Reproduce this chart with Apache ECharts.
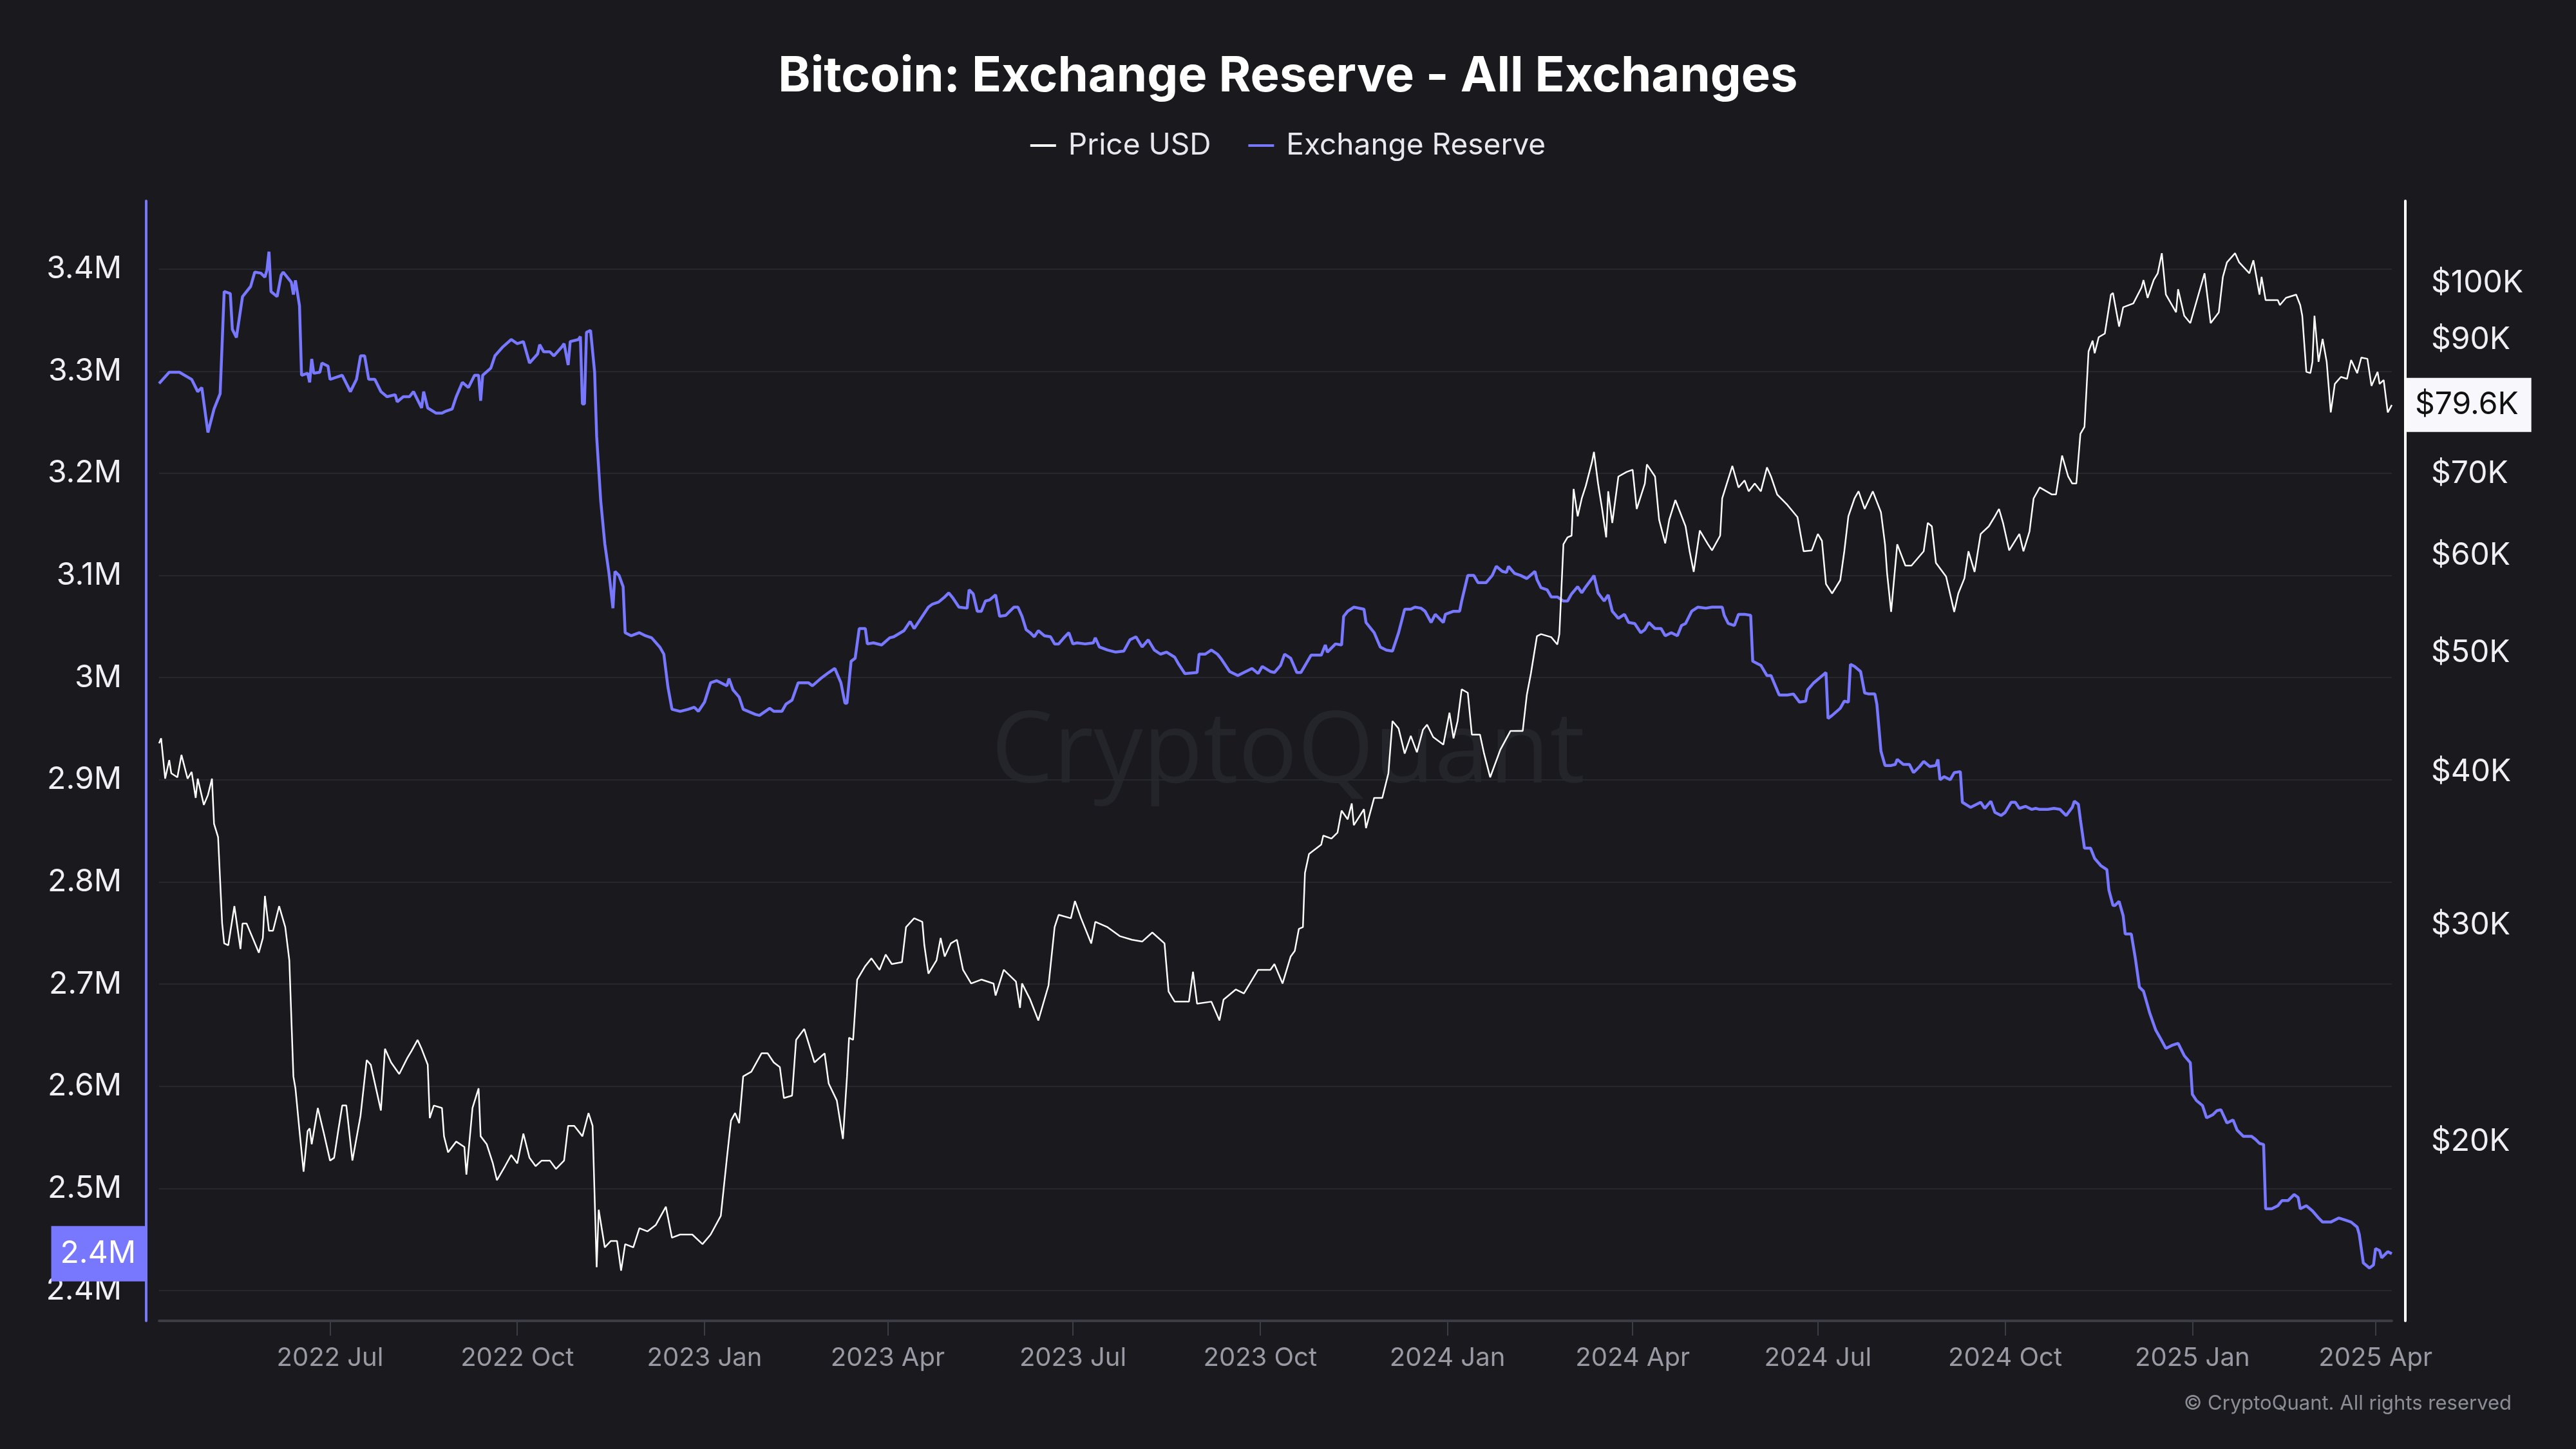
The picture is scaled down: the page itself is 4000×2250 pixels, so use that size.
<!DOCTYPE html>
<html>
<head>
<meta charset="utf-8">
<title>Bitcoin: Exchange Reserve - All Exchanges</title>
<script src="https://cdn.jsdelivr.net/npm/echarts@6/dist/echarts.min.js"></script>
<style>
  html, body { margin: 0; padding: 0; background: #19191e; }
  #chart { width: 4000px; height: 2250px; }
</style>
</head>
<body>
<div id="chart"></div>
<script>
// exchange reserve, million BTC
var reserveData = [
  ['2022-04-08', 3.288], ['2022-04-13', 3.299], ['2022-04-18', 3.299], ['2022-04-24', 3.292], ['2022-04-27', 3.280], ['2022-04-29', 3.284],
  ['2022-05-02', 3.240], ['2022-05-05', 3.263], ['2022-05-08', 3.278], ['2022-05-10', 3.378], ['2022-05-13', 3.376], ['2022-05-14', 3.341],
  ['2022-05-16', 3.333], ['2022-05-19', 3.373], ['2022-05-23', 3.383], ['2022-05-25', 3.397], ['2022-05-28', 3.396], ['2022-05-30', 3.392],
  ['2022-05-31', 3.399], ['2022-06-01', 3.417], ['2022-06-02', 3.378], ['2022-06-05', 3.373], ['2022-06-07', 3.394], ['2022-06-08', 3.397],
  ['2022-06-12', 3.387], ['2022-06-13', 3.375], ['2022-06-14', 3.389], ['2022-06-16', 3.364], ['2022-06-17', 3.296], ['2022-06-20', 3.298],
  ['2022-06-21', 3.289], ['2022-06-22', 3.312], ['2022-06-23', 3.298], ['2022-06-26', 3.299], ['2022-06-27', 3.308], ['2022-06-30', 3.305],
  ['2022-07-01', 3.292], ['2022-07-04', 3.294], ['2022-07-07', 3.296], ['2022-07-11', 3.280], ['2022-07-14', 3.292], ['2022-07-16', 3.315],
  ['2022-07-18', 3.315], ['2022-07-20', 3.292], ['2022-07-23', 3.292], ['2022-07-26', 3.280], ['2022-07-29', 3.275], ['2022-08-02', 3.277],
  ['2022-08-03', 3.270], ['2022-08-06', 3.275], ['2022-08-09', 3.275], ['2022-08-11', 3.280], ['2022-08-15', 3.264], ['2022-08-16', 3.280],
  ['2022-08-18', 3.264], ['2022-08-22', 3.259], ['2022-08-25', 3.259], ['2022-08-27', 3.261], ['2022-08-30', 3.263], ['2022-09-01', 3.275],
  ['2022-09-04', 3.289], ['2022-09-07', 3.284], ['2022-09-10', 3.296], ['2022-09-12', 3.296], ['2022-09-13', 3.271], ['2022-09-14', 3.296],
  ['2022-09-18', 3.303], ['2022-09-20', 3.315], ['2022-09-24', 3.324], ['2022-09-28', 3.331], ['2022-10-01', 3.327], ['2022-10-04', 3.329],
  ['2022-10-07', 3.308], ['2022-10-11', 3.317], ['2022-10-12', 3.326], ['2022-10-14', 3.319], ['2022-10-17', 3.319], ['2022-10-19', 3.315],
  ['2022-10-23', 3.324], ['2022-10-24', 3.327], ['2022-10-26', 3.306], ['2022-10-27', 3.329], ['2022-10-31', 3.331], ['2022-11-01', 3.334],
  ['2022-11-02', 3.268], ['2022-11-03', 3.268], ['2022-11-04', 3.338], ['2022-11-06', 3.340], ['2022-11-08', 3.299], ['2022-11-09', 3.236],
  ['2022-11-11', 3.173], ['2022-11-13', 3.131], ['2022-11-15', 3.103], ['2022-11-17', 3.068], ['2022-11-18', 3.104], ['2022-11-20', 3.100],
  ['2022-11-22', 3.089], ['2022-11-23', 3.044], ['2022-11-26', 3.041], ['2022-11-30', 3.044], ['2022-12-03', 3.041], ['2022-12-06', 3.039],
  ['2022-12-10', 3.030], ['2022-12-12', 3.023], ['2022-12-14', 2.991], ['2022-12-16', 2.969], ['2022-12-20', 2.967], ['2022-12-24', 2.969],
  ['2022-12-27', 2.971], ['2022-12-29', 2.967], ['2023-01-01', 2.976], ['2023-01-04', 2.995], ['2023-01-07', 2.997], ['2023-01-12', 2.992],
  ['2023-01-13', 2.999], ['2023-01-15', 2.988], ['2023-01-18', 2.981], ['2023-01-20', 2.969], ['2023-01-26', 2.964], ['2023-01-28', 2.963],
  ['2023-02-02', 2.970], ['2023-02-04', 2.967], ['2023-02-08', 2.967], ['2023-02-10', 2.974], ['2023-02-13', 2.978], ['2023-02-16', 2.995],
  ['2023-02-21', 2.995], ['2023-02-23', 2.992], ['2023-02-27', 2.999], ['2023-03-03', 3.005], ['2023-03-06', 3.009], ['2023-03-09', 2.995],
  ['2023-03-11', 2.975], ['2023-03-12', 2.975], ['2023-03-14', 3.016], ['2023-03-16', 3.019], ['2023-03-18', 3.048], ['2023-03-21', 3.048],
  ['2023-03-22', 3.033], ['2023-03-25', 3.034], ['2023-03-29', 3.032], ['2023-04-02', 3.039], ['2023-04-04', 3.040], ['2023-04-09', 3.046],
  ['2023-04-12', 3.055], ['2023-04-14', 3.048], ['2023-04-18', 3.060], ['2023-04-21', 3.069], ['2023-04-23', 3.072], ['2023-04-26', 3.074],
  ['2023-04-29', 3.079], ['2023-05-01', 3.083], ['2023-05-03', 3.078], ['2023-05-06', 3.069], ['2023-05-10', 3.068], ['2023-05-11', 3.086],
  ['2023-05-13', 3.082], ['2023-05-15', 3.065], ['2023-05-17', 3.065], ['2023-05-19', 3.075], ['2023-05-21', 3.076], ['2023-05-24', 3.081],
  ['2023-05-26', 3.060], ['2023-05-29', 3.061], ['2023-05-31', 3.065], ['2023-06-02', 3.069], ['2023-06-04', 3.069], ['2023-06-06', 3.060],
  ['2023-06-08', 3.047], ['2023-06-10', 3.044], ['2023-06-12', 3.040], ['2023-06-14', 3.046], ['2023-06-17', 3.041], ['2023-06-20', 3.040],
  ['2023-06-22', 3.033], ['2023-06-24', 3.033], ['2023-06-27', 3.040], ['2023-06-29', 3.044], ['2023-07-01', 3.033], ['2023-07-03', 3.034],
  ['2023-07-07', 3.033], ['2023-07-11', 3.034], ['2023-07-12', 3.039], ['2023-07-14', 3.030], ['2023-07-18', 3.027], ['2023-07-22', 3.025],
  ['2023-07-26', 3.026], ['2023-07-29', 3.037], ['2023-08-01', 3.040], ['2023-08-04', 3.030], ['2023-08-07', 3.037], ['2023-08-10', 3.027],
  ['2023-08-13', 3.023], ['2023-08-16', 3.025], ['2023-08-20', 3.020], ['2023-08-22', 3.013], ['2023-08-25', 3.004], ['2023-08-31', 3.005],
  ['2023-09-01', 3.023], ['2023-09-04', 3.023], ['2023-09-07', 3.027], ['2023-09-10', 3.023], ['2023-09-12', 3.018], ['2023-09-16', 3.006],
  ['2023-09-20', 3.002], ['2023-09-23', 3.005], ['2023-09-27', 3.009], ['2023-09-30', 3.004], ['2023-10-02', 3.011], ['2023-10-06', 3.006],
  ['2023-10-08', 3.005], ['2023-10-11', 3.012], ['2023-10-13', 3.023], ['2023-10-16', 3.019], ['2023-10-19', 3.005], ['2023-10-21', 3.005],
  ['2023-10-26', 3.022], ['2023-10-31', 3.022], ['2023-11-02', 3.032], ['2023-11-03', 3.025], ['2023-11-07', 3.033], ['2023-11-10', 3.032],
  ['2023-11-11', 3.060], ['2023-11-13', 3.065], ['2023-11-16', 3.069], ['2023-11-21', 3.067], ['2023-11-22', 3.054], ['2023-11-26', 3.044],
  ['2023-11-29', 3.030], ['2023-12-02', 3.027], ['2023-12-05', 3.026], ['2023-12-08', 3.044], ['2023-12-11', 3.067], ['2023-12-14', 3.067],
  ['2023-12-16', 3.069], ['2023-12-19', 3.068], ['2023-12-21', 3.065], ['2023-12-24', 3.054], ['2023-12-26', 3.062], ['2023-12-30', 3.054],
  ['2023-12-31', 3.062], ['2024-01-04', 3.065], ['2024-01-07', 3.065], ['2024-01-08', 3.075], ['2024-01-11', 3.100], ['2024-01-14', 3.100],
  ['2024-01-16', 3.093], ['2024-01-20', 3.093], ['2024-01-23', 3.100], ['2024-01-25', 3.109], ['2024-01-28', 3.104], ['2024-01-30', 3.103],
  ['2024-01-31', 3.109], ['2024-02-03', 3.102], ['2024-02-06', 3.100], ['2024-02-09', 3.097], ['2024-02-13', 3.104], ['2024-02-14', 3.096],
  ['2024-02-16', 3.088], ['2024-02-19', 3.086], ['2024-02-21', 3.079], ['2024-02-24', 3.079], ['2024-02-27', 3.075], ['2024-02-29', 3.075],
  ['2024-03-02', 3.082], ['2024-03-05', 3.089], ['2024-03-07', 3.083], ['2024-03-09', 3.089], ['2024-03-12', 3.097], ['2024-03-13', 3.100],
  ['2024-03-15', 3.083], ['2024-03-18', 3.075], ['2024-03-20', 3.081], ['2024-03-22', 3.065], ['2024-03-25', 3.058], ['2024-03-28', 3.062],
  ['2024-03-30', 3.054], ['2024-04-02', 3.053], ['2024-04-05', 3.044], ['2024-04-07', 3.047], ['2024-04-09', 3.054], ['2024-04-12', 3.048],
  ['2024-04-15', 3.048], ['2024-04-17', 3.041], ['2024-04-20', 3.044], ['2024-04-23', 3.041], ['2024-04-25', 3.051], ['2024-04-27', 3.053],
  ['2024-04-30', 3.065], ['2024-05-03', 3.069], ['2024-05-07', 3.068], ['2024-05-10', 3.069], ['2024-05-15', 3.069], ['2024-05-16', 3.061],
  ['2024-05-18', 3.053], ['2024-05-21', 3.051], ['2024-05-23', 3.062], ['2024-05-26', 3.062], ['2024-05-29', 3.061], ['2024-05-30', 3.016],
  ['2024-06-03', 3.012], ['2024-06-06', 3.002], ['2024-06-08', 3.002], ['2024-06-12', 2.983], ['2024-06-16', 2.983], ['2024-06-19', 2.984],
  ['2024-06-22', 2.976], ['2024-06-25', 2.977], ['2024-06-26', 2.988], ['2024-06-29', 2.995], ['2024-07-05', 3.005], ['2024-07-06', 2.960],
  ['2024-07-08', 2.963], ['2024-07-12', 2.970], ['2024-07-14', 2.977], ['2024-07-16', 2.976], ['2024-07-17', 3.013], ['2024-07-19', 3.011],
  ['2024-07-22', 3.006], ['2024-07-24', 2.985], ['2024-07-26', 2.984], ['2024-07-29', 2.984], ['2024-07-30', 2.974], ['2024-08-01', 2.928],
  ['2024-08-03', 2.914], ['2024-08-06', 2.914], ['2024-08-08', 2.915], ['2024-08-09', 2.920], ['2024-08-12', 2.915], ['2024-08-15', 2.915],
  ['2024-08-17', 2.907], ['2024-08-20', 2.913], ['2024-08-22', 2.918], ['2024-08-25', 2.913], ['2024-08-28', 2.914], ['2024-08-29', 2.920],
  ['2024-08-30', 2.900], ['2024-09-01', 2.903], ['2024-09-04', 2.900], ['2024-09-06', 2.907], ['2024-09-09', 2.908], ['2024-09-10', 2.878],
  ['2024-09-14', 2.873], ['2024-09-16', 2.875], ['2024-09-19', 2.878], ['2024-09-21', 2.872], ['2024-09-24', 2.879], ['2024-09-26', 2.868],
  ['2024-09-29', 2.865], ['2024-10-01', 2.868], ['2024-10-04', 2.878], ['2024-10-06', 2.878], ['2024-10-08', 2.872], ['2024-10-11', 2.874],
  ['2024-10-14', 2.871], ['2024-10-16', 2.872], ['2024-10-18', 2.871], ['2024-10-22', 2.871], ['2024-10-25', 2.872], ['2024-10-28', 2.871],
  ['2024-10-31', 2.865], ['2024-11-03', 2.873], ['2024-11-04', 2.879], ['2024-11-06', 2.876], ['2024-11-07', 2.861], ['2024-11-09', 2.833],
  ['2024-11-12', 2.833], ['2024-11-14', 2.823], ['2024-11-17', 2.816], ['2024-11-20', 2.812], ['2024-11-21', 2.792], ['2024-11-23', 2.777],
  ['2024-11-24', 2.777], ['2024-11-26', 2.781], ['2024-11-28', 2.767], ['2024-11-29', 2.749], ['2024-12-02', 2.749], ['2024-12-04', 2.725],
  ['2024-12-06', 2.697], ['2024-12-08', 2.693], ['2024-12-11', 2.672], ['2024-12-14', 2.655], ['2024-12-16', 2.648], ['2024-12-19', 2.637],
  ['2024-12-22', 2.640], ['2024-12-25', 2.642], ['2024-12-28', 2.630], ['2024-12-31', 2.623], ['2025-01-01', 2.592], ['2025-01-03', 2.586],
  ['2025-01-06', 2.581], ['2025-01-08', 2.569], ['2025-01-11', 2.572], ['2025-01-13', 2.576], ['2025-01-15', 2.577], ['2025-01-18', 2.564],
  ['2025-01-21', 2.567], ['2025-01-23', 2.557], ['2025-01-26', 2.551], ['2025-01-30', 2.551], ['2025-02-01', 2.548], ['2025-02-03', 2.544],
  ['2025-02-05', 2.543], ['2025-02-06', 2.480], ['2025-02-09', 2.480], ['2025-02-12', 2.483], ['2025-02-14', 2.488], ['2025-02-17', 2.488],
  ['2025-02-20', 2.494], ['2025-02-22', 2.491], ['2025-02-23', 2.480], ['2025-02-26', 2.483], ['2025-03-01', 2.478], ['2025-03-04', 2.471],
  ['2025-03-06', 2.467], ['2025-03-10', 2.467], ['2025-03-14', 2.471], ['2025-03-17', 2.469], ['2025-03-20', 2.467], ['2025-03-23', 2.462],
  ['2025-03-24', 2.455], ['2025-03-26', 2.427], ['2025-03-29', 2.422], ['2025-03-31', 2.425], ['2025-04-01', 2.441], ['2025-04-03', 2.439],
  ['2025-04-04', 2.432], ['2025-04-07', 2.438], ['2025-04-09', 2.436]
];

// BTC price, thousand USD
var priceData = [
  ['2022-04-08', 42.2], ['2022-04-09', 42.6], ['2022-04-11', 39.5], ['2022-04-13', 40.9], ['2022-04-14', 39.9], ['2022-04-17', 39.6],
  ['2022-04-19', 41.3], ['2022-04-22', 39.5], ['2022-04-24', 40.0], ['2022-04-26', 38.1], ['2022-04-27', 39.5], ['2022-04-30', 37.6],
  ['2022-05-02', 38.3], ['2022-05-04', 39.5], ['2022-05-05', 36.3], ['2022-05-07', 35.4], ['2022-05-09', 30.1], ['2022-05-10', 29.0],
  ['2022-05-12', 28.9], ['2022-05-15', 31.1], ['2022-05-18', 28.7], ['2022-05-19', 30.1], ['2022-05-21', 30.1], ['2022-05-24', 29.3],
  ['2022-05-27', 28.5], ['2022-05-29', 29.3], ['2022-05-30', 31.7], ['2022-06-01', 29.7], ['2022-06-03', 29.7], ['2022-06-06', 31.1],
  ['2022-06-09', 29.9], ['2022-06-11', 28.1], ['2022-06-13', 22.6], ['2022-06-14', 22.1], ['2022-06-16', 20.4], ['2022-06-18', 18.9],
  ['2022-06-20', 20.4], ['2022-06-21', 20.5], ['2022-06-22', 19.9], ['2022-06-25', 21.3], ['2022-06-28', 20.3], ['2022-07-01', 19.3],
  ['2022-07-03', 19.4], ['2022-07-05', 20.4], ['2022-07-07', 21.4], ['2022-07-09', 21.4], ['2022-07-12', 19.3], ['2022-07-16', 21.0],
  ['2022-07-19', 23.3], ['2022-07-21', 23.1], ['2022-07-26', 21.2], ['2022-07-28', 23.8], ['2022-07-31', 23.2], ['2022-08-04', 22.7],
  ['2022-08-08', 23.4], ['2022-08-10', 23.7], ['2022-08-13', 24.2], ['2022-08-15', 23.8], ['2022-08-18', 23.1], ['2022-08-19', 20.9],
  ['2022-08-21', 21.4], ['2022-08-25', 21.3], ['2022-08-26', 20.2], ['2022-08-28', 19.6], ['2022-09-01', 20.0], ['2022-09-05', 19.8],
  ['2022-09-06', 18.8], ['2022-09-09', 21.3], ['2022-09-12', 22.1], ['2022-09-13', 20.2], ['2022-09-16', 19.9], ['2022-09-19', 19.2],
  ['2022-09-21', 18.6], ['2022-09-25', 19.1], ['2022-09-28', 19.5], ['2022-10-01', 19.2], ['2022-10-04', 20.3], ['2022-10-07', 19.4],
  ['2022-10-10', 19.1], ['2022-10-13', 19.3], ['2022-10-17', 19.3], ['2022-10-20', 19.0], ['2022-10-24', 19.3], ['2022-10-26', 20.6],
  ['2022-10-29', 20.6], ['2022-11-02', 20.2], ['2022-11-05', 21.1], ['2022-11-07', 20.6], ['2022-11-09', 15.8], ['2022-11-10', 17.6],
  ['2022-11-13', 16.4], ['2022-11-16', 16.6], ['2022-11-19', 16.6], ['2022-11-21', 15.7], ['2022-11-23', 16.5], ['2022-11-27', 16.4],
  ['2022-11-30', 17.0], ['2022-12-04', 16.9], ['2022-12-08', 17.1], ['2022-12-13', 17.7], ['2022-12-16', 16.7], ['2022-12-20', 16.8],
  ['2022-12-26', 16.8], ['2022-12-31', 16.5], ['2023-01-04', 16.8], ['2023-01-09', 17.4], ['2023-01-12', 19.4], ['2023-01-14', 20.8],
  ['2023-01-16', 21.1], ['2023-01-18', 20.7], ['2023-01-20', 22.6], ['2023-01-24', 22.8], ['2023-01-29', 23.6], ['2023-02-01', 23.6],
  ['2023-02-04', 23.2], ['2023-02-07', 23.0], ['2023-02-09', 21.7], ['2023-02-13', 21.8], ['2023-02-15', 24.2], ['2023-02-19', 24.7],
  ['2023-02-24', 23.2], ['2023-03-01', 23.6], ['2023-03-03', 22.3], ['2023-03-07', 21.6], ['2023-03-10', 20.1], ['2023-03-12', 22.6],
  ['2023-03-13', 24.3], ['2023-03-15', 24.2], ['2023-03-17', 27.1], ['2023-03-21', 27.8], ['2023-03-24', 28.2], ['2023-03-28', 27.6],
  ['2023-03-31', 28.4], ['2023-04-03', 27.9], ['2023-04-08', 28.0], ['2023-04-10', 29.9], ['2023-04-14', 30.4], ['2023-04-18', 30.2],
  ['2023-04-19', 28.9], ['2023-04-21', 27.4], ['2023-04-25', 28.1], ['2023-04-27', 29.3], ['2023-04-29', 28.3], ['2023-05-02', 29.0],
  ['2023-05-05', 29.2], ['2023-05-08', 27.6], ['2023-05-12', 26.9], ['2023-05-17', 27.1], ['2023-05-23', 26.9], ['2023-05-24', 26.3],
  ['2023-05-28', 27.6], ['2023-06-03', 27.0], ['2023-06-05', 25.7], ['2023-06-06', 26.9], ['2023-06-10', 26.1], ['2023-06-14', 25.1],
  ['2023-06-19', 26.8], ['2023-06-22', 29.9], ['2023-06-24', 30.6], ['2023-06-30', 30.4], ['2023-07-02', 31.4], ['2023-07-05', 30.4],
  ['2023-07-10', 29.0], ['2023-07-12', 30.2], ['2023-07-18', 29.9], ['2023-07-24', 29.4], ['2023-07-30', 29.2], ['2023-08-04', 29.1],
  ['2023-08-09', 29.6], ['2023-08-15', 29.0], ['2023-08-17', 26.5], ['2023-08-20', 26.0], ['2023-08-27', 26.0], ['2023-08-29', 27.5],
  ['2023-08-31', 25.9], ['2023-09-07', 26.0], ['2023-09-11', 25.1], ['2023-09-13', 26.1], ['2023-09-19', 26.6], ['2023-09-23', 26.4],
  ['2023-09-30', 27.6], ['2023-10-06', 27.6], ['2023-10-08', 27.9], ['2023-10-12', 26.9], ['2023-10-16', 28.3], ['2023-10-18', 28.6],
  ['2023-10-20', 29.8], ['2023-10-22', 29.9], ['2023-10-23', 33.1], ['2023-10-25', 34.3], ['2023-10-31', 34.9], ['2023-11-01', 35.5],
  ['2023-11-05', 35.3], ['2023-11-08', 35.7], ['2023-11-10', 37.2], ['2023-11-13', 36.6], ['2023-11-15', 37.7], ['2023-11-16', 36.2],
  ['2023-11-21', 37.3], ['2023-11-22', 36.0], ['2023-11-26', 38.1], ['2023-11-30', 38.1], ['2023-12-03', 39.9], ['2023-12-05', 44.0],
  ['2023-12-08', 43.4], ['2023-12-11', 41.4], ['2023-12-14', 42.8], ['2023-12-17', 41.5], ['2023-12-20', 43.3], ['2023-12-22', 43.7],
  ['2023-12-25', 42.7], ['2023-12-30', 42.1], ['2024-01-02', 44.7], ['2024-01-04', 42.6], ['2024-01-06', 44.0], ['2024-01-08', 46.7],
  ['2024-01-11', 46.4], ['2024-01-13', 42.9], ['2024-01-17', 42.9], ['2024-01-19', 41.4], ['2024-01-22', 39.6], ['2024-01-27', 41.7],
  ['2024-02-01', 43.2], ['2024-02-07', 43.2], ['2024-02-09', 46.2], ['2024-02-11', 48.1], ['2024-02-14', 51.6], ['2024-02-16', 51.8],
  ['2024-02-21', 51.5], ['2024-02-24', 50.8], ['2024-02-25', 51.8], ['2024-02-27', 61.3], ['2024-02-29', 62.1], ['2024-03-02', 62.3],
  ['2024-03-03', 68.0], ['2024-03-05', 64.6], ['2024-03-07', 66.8], ['2024-03-09', 68.4], ['2024-03-12', 71.5], ['2024-03-13', 72.9],
  ['2024-03-15', 68.7], ['2024-03-17', 65.5], ['2024-03-19', 62.1], ['2024-03-20', 67.7], ['2024-03-22', 63.8], ['2024-03-25', 69.6],
  ['2024-03-29', 70.2], ['2024-04-01', 70.5], ['2024-04-03', 65.5], ['2024-04-07', 68.7], ['2024-04-08', 71.2], ['2024-04-12', 69.6],
  ['2024-04-14', 64.2], ['2024-04-17', 61.4], ['2024-04-19', 64.2], ['2024-04-22', 66.6], ['2024-04-27', 63.4], ['2024-04-29', 60.5],
  ['2024-05-01', 58.2], ['2024-05-04', 62.9], ['2024-05-08', 61.3], ['2024-05-10', 60.6], ['2024-05-14', 62.3], ['2024-05-15', 66.8],
  ['2024-05-20', 71.0], ['2024-05-23', 68.2], ['2024-05-26', 69.1], ['2024-05-28', 67.7], ['2024-05-31', 68.7], ['2024-06-03', 67.7],
  ['2024-06-06', 70.8], ['2024-06-08', 69.6], ['2024-06-11', 67.3], ['2024-06-16', 66.0], ['2024-06-21', 64.5], ['2024-06-24', 60.5],
  ['2024-06-28', 60.6], ['2024-07-01', 62.5], ['2024-07-03', 61.7], ['2024-07-05', 56.9], ['2024-07-08', 55.9], ['2024-07-12', 57.3],
  ['2024-07-14', 60.5], ['2024-07-16', 64.6], ['2024-07-19', 66.8], ['2024-07-21', 67.7], ['2024-07-24', 65.5], ['2024-07-28', 67.7],
  ['2024-08-01', 65.1], ['2024-08-03', 61.3], ['2024-08-04', 58.1], ['2024-08-06', 54.0], ['2024-08-09', 61.3], ['2024-08-13', 58.9],
  ['2024-08-16', 58.9], ['2024-08-22', 60.5], ['2024-08-24', 63.8], ['2024-08-26', 63.4], ['2024-08-28', 59.2], ['2024-09-02', 57.7],
  ['2024-09-06', 54.0], ['2024-09-08', 55.9], ['2024-09-11', 57.5], ['2024-09-13', 60.5], ['2024-09-16', 58.2], ['2024-09-19', 62.5],
  ['2024-09-23', 63.4], ['2024-09-26', 64.6], ['2024-09-28', 65.5], ['2024-09-30', 63.8], ['2024-10-03', 60.6], ['2024-10-08', 62.5],
  ['2024-10-10', 60.5], ['2024-10-13', 62.8], ['2024-10-15', 66.8], ['2024-10-18', 68.2], ['2024-10-24', 67.3], ['2024-10-26', 67.3],
  ['2024-10-29', 72.4], ['2024-11-01', 69.6], ['2024-11-03', 68.7], ['2024-11-05', 68.7], ['2024-11-07', 75.4], ['2024-11-09', 76.4],
  ['2024-11-11', 88.0], ['2024-11-13', 89.8], ['2024-11-14', 87.7], ['2024-11-16', 90.4], ['2024-11-19', 91.0], ['2024-11-22', 97.9],
  ['2024-11-23', 98.2], ['2024-11-26', 92.2], ['2024-11-28', 95.6], ['2024-12-03', 96.3], ['2024-12-07', 99.2], ['2024-12-08', 100.6],
  ['2024-12-10', 97.3], ['2024-12-13', 100.6], ['2024-12-15', 101.9], ['2024-12-17', 105.8], ['2024-12-19', 97.9], ['2024-12-24', 94.7],
  ['2024-12-25', 98.9], ['2024-12-28', 94.1], ['2024-12-31', 92.8], ['2025-01-03', 96.6], ['2025-01-07', 101.9], ['2025-01-10', 92.8],
  ['2025-01-14', 94.7], ['2025-01-16', 101.2], ['2025-01-18', 104.0], ['2025-01-22', 105.8], ['2025-01-24', 104.0], ['2025-01-29', 101.9],
  ['2025-01-31', 104.4], ['2025-02-03', 97.9], ['2025-02-04', 101.2], ['2025-02-06', 96.9], ['2025-02-12', 96.9], ['2025-02-13', 96.0],
  ['2025-02-16', 97.3], ['2025-02-21', 97.9], ['2025-02-23', 96.0], ['2025-02-24', 94.1], ['2025-02-26', 84.7], ['2025-02-28', 84.5],
  ['2025-03-01', 86.3], ['2025-03-02', 94.1], ['2025-03-04', 86.3], ['2025-03-06', 90.1], ['2025-03-08', 86.3], ['2025-03-10', 78.5],
  ['2025-03-12', 82.8], ['2025-03-15', 83.9], ['2025-03-18', 83.6], ['2025-03-20', 86.6], ['2025-03-23', 84.5], ['2025-03-25', 87.0],
  ['2025-03-28', 86.8], ['2025-03-30', 82.5], ['2025-04-02', 84.7], ['2025-04-03', 82.8], ['2025-04-05', 83.4], ['2025-04-07', 78.5],
  ['2025-04-09', 79.6]
];

var priceTicks = [20, 30, 40, 50, 60, 70, 90, 100];
var monthNames = ['Jan', 'Feb', 'Mar', 'Apr', 'May', 'Jun', 'Jul', 'Aug', 'Sep', 'Oct', 'Nov', 'Dec'];

var lastReserve = reserveData[reserveData.length - 1][1];
var lastPrice = priceData[priceData.length - 1][1];

var purple = '#7878ff';
var font = 'Inter, "Noto Sans", sans-serif';
var DAY = 24 * 3600 * 1000;

var myChart = echarts.init(document.getElementById('chart'));

var option = {
    backgroundColor: '#19191e',
    animation: false,
    textStyle: { fontFamily: font },
    title: {
        text: 'Bitcoin: Exchange Reserve - All Exchanges',
        left: 'center',
        top: 76,
        textStyle: { color: '#ffffff', fontSize: 76, fontWeight: 'bold', fontFamily: font }
    },
    legend: {
        top: 198,
        left: 'center',
        icon: 'rect',
        itemWidth: 40,
        itemHeight: 4,
        itemGap: 58,
        textStyle: { color: '#e8e8ee', fontSize: 46, fontFamily: font, padding: [0, 0, 0, 14] },
        data: ['Price USD', 'Exchange Reserve']
    },
    grid: { left: 247, right: 286, top: 312, bottom: 199, containLabel: false },
    graphic: [
        {
            type: 'text',
            id: 'watermark',
            left: 'center',
            top: 1095,
            z: -1,
            silent: true,
            style: { text: 'CryptoQuant', fill: '#24242b', fontSize: 153, fontFamily: '"Open Sans", ' + font, fontWeight: 500 }
        },
        {
            type: 'text',
            id: 'copyright',
            right: 100,
            top: 2164,
            silent: true,
            style: { text: '\u00a9 CryptoQuant. All rights reserved', fill: '#8d8d98', fontSize: 31, fontFamily: font }
        }
    ],
    xAxis: {
        type: 'time',
        min: 'dataMin',
        max: 'dataMax',
        splitNumber: 12,
        minInterval: 80 * DAY,
        maxInterval: 100 * DAY,
        axisLine: { show: true, lineStyle: { color: '#3c3c46', width: 4 } },
        axisTick: { show: true, length: 23, lineStyle: { color: '#3c3c46', width: 2 } },
        splitLine: { show: false },
        axisLabel: {
            color: '#9a9aa5',
            fontSize: 40,
            margin: 38,
            fontFamily: font,
            showMinLabel: false,
            showMaxLabel: false,
            formatter: function (v) {
                var d = new Date(v);
                return d.getFullYear() + ' ' + monthNames[d.getMonth()];
            }
        }
    },
    yAxis: [
        {
            type: 'value',
            position: 'left',
            offset: 20,
            min: 2.3703,
            max: 3.4667,
            splitNumber: 11,
            axisLine: { show: true, lineStyle: { color: purple, width: 4 } },
            axisTick: { show: false },
            axisLabel: {
                color: '#f0f0f4',
                fontSize: 48,
                margin: 38,
                fontFamily: font,
                formatter: function (v) {
                    if (Math.abs(v * 10 - Math.round(v * 10)) > 1e-6) return '';
                    return +v.toFixed(1) + 'M';
                }
            },
            splitLine: { show: true, showMinLine: false, showMaxLine: false, lineStyle: { color: '#27272e', width: 2 } }
        },
        {
            type: 'log',
            logBase: 10,
            position: 'right',
            offset: 21,
            min: 14.29,
            max: 116.7,
            axisLine: { show: true, lineStyle: { color: '#ffffff', width: 4 } },
            axisTick: { show: false },
            splitLine: { show: false },
            axisLabel: {
                customValues: priceTicks,
                color: '#f0f0f4',
                fontSize: 48,
                margin: 40,
                fontFamily: font,
                formatter: function (v) { return '$' + Math.round(v) + 'K'; }
            }
        }
    ],
    series: [
        {
            name: 'Exchange Reserve',
            type: 'line',
            yAxisIndex: 0,
            symbol: 'none',
            color: purple,
            lineStyle: { color: purple, width: 4.5 },
            data: reserveData
        },
        {
            name: 'Price USD',
            type: 'line',
            yAxisIndex: 1,
            symbol: 'none',
            color: '#ffffff',
            lineStyle: { color: '#ffffff', width: 2.5 },
            data: priceData
        }
    ]
};
myChart.setOption(option);

// last-value tags on both axes, placed through the axis scales
var yReserve = myChart.convertToPixel({ yAxisIndex: 0 }, lastReserve);
var yPrice = myChart.convertToPixel({ yAxisIndex: 1 }, lastPrice);
myChart.setOption({
    graphic: [
        {
            type: 'text',
            id: 'reserveTag',
            x: 225,
            y: yReserve,
            z: 100,
            silent: true,
            style: {
                text: lastReserve.toFixed(1) + 'M',
                align: 'right',
                verticalAlign: 'middle',
                fill: '#ffffff',
                fontSize: 48,
                fontFamily: font,
                backgroundColor: purple,
                padding: [19, 14, 19, 14]
            }
        },
        {
            type: 'text',
            id: 'priceTag',
            x: 3737,
            y: yPrice,
            z: 100,
            silent: true,
            style: {
                text: '$' + lastPrice.toFixed(1) + 'K',
                align: 'left',
                verticalAlign: 'middle',
                fill: '#111111',
                fontSize: 48,
                fontFamily: font,
                backgroundColor: '#f8f8fc',
                padding: [18, 20, 18, 13]
            }
        }
    ]
});
</script>
</body>
</html>
